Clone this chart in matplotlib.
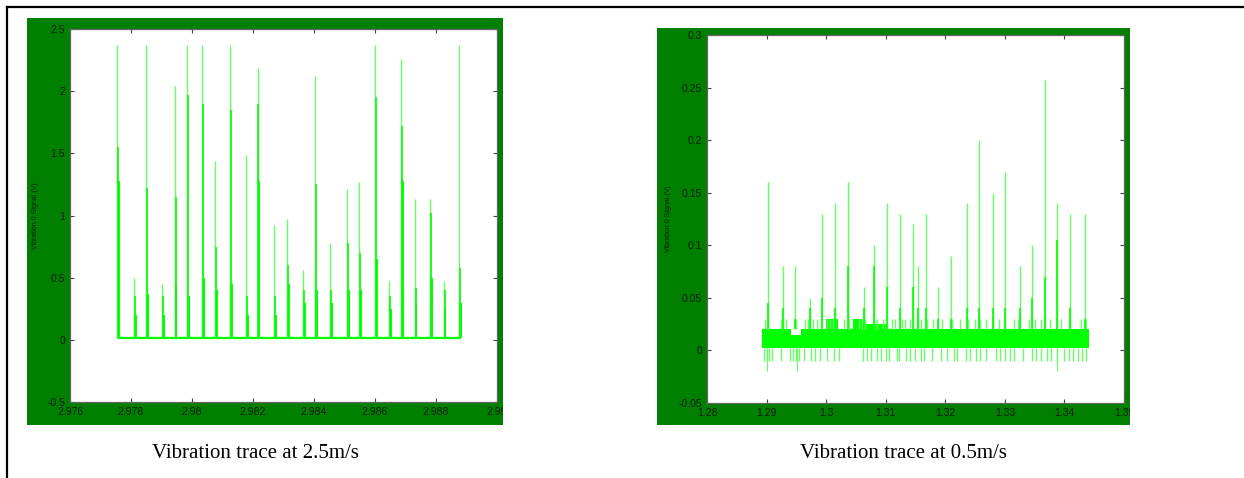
import numpy as np
import matplotlib
matplotlib.use("Agg")
import matplotlib.pyplot as plt
from matplotlib.patches import Rectangle
from matplotlib.lines import Line2D

# ---- left trace (2.5 m/s) ----
t_fast = [2.97755, 2.97810, 2.97849, 2.97903, 2.97943, 2.97983, 2.98032, 2.98077,
          2.98125, 2.98176, 2.98215, 2.98269, 2.98313, 2.98363, 2.98404, 2.98453,
          2.98508, 2.98548, 2.98599, 2.98646, 2.98686, 2.98730, 2.98781, 2.98825,
          2.98877]
pk_fast = [2.37, 0.50, 2.37, 0.45, 2.04, 2.37, 2.37, 1.44, 2.37, 1.49, 2.19, 0.92,
           0.97, 0.56, 2.12, 0.78, 1.21, 1.27, 2.37, 0.47, 2.26, 1.13, 1.13, 0.47, 2.37]
pk2_fast = [1.55, 0.35, 1.22, 0.35, 1.15, 1.97, 1.90, 0.75, 1.85, 0.35, 1.90, 0.35,
            0.60, 0.40, 1.25, 0.40, 0.78, 0.70, 1.95, 0.35, 1.72, 0.42, 1.02, 0.40, 0.58]
pk3_fast = [1.28, 0.20, 0.37, 0.20, 0.45, 0.35, 0.50, 0.40, 0.45, 0.20, 1.28, 0.20,
            0.45, 0.30, 0.40, 0.30, 0.40, 0.40, 0.65, 0.25, 1.28, 0.30, 0.50, 0.25, 0.30]
fast_span = [2.97753, 2.98882]
fast_base = 0.012

# ---- right trace (0.5 m/s) ----
t_slow = [1.29025, 1.29277, 1.29478, 1.29725, 1.29926, 1.30145, 1.30374, 1.30632,
          1.30800, 1.31024, 1.31248, 1.31450, 1.31534, 1.31674, 1.31870, 1.32094,
          1.32357, 1.32570, 1.32805, 1.33006, 1.33253, 1.33454, 1.33673, 1.33869,
          1.34093, 1.34350]
pk_slow = [0.16, 0.08, 0.08, 0.05, 0.13, 0.14, 0.16, 0.06, 0.10, 0.14, 0.13, 0.12,
           0.08, 0.13, 0.06, 0.09, 0.14, 0.20, 0.15, 0.17, 0.08, 0.10, 0.257, 0.14,
           0.13, 0.13]
pk2_slow = [0.045, 0.04, 0.03, 0.04, 0.05, 0.04, 0.08, 0.04, 0.08, 0.06, 0.04, 0.06,
            0.04, 0.04, 0.03, 0.03, 0.04, 0.04, 0.04, 0.04, 0.04, 0.05, 0.07, 0.105,
            0.04, 0.03]
band_x = [1.2893, 1.2941, 1.2958, 1.3000, 1.3020, 1.3045, 1.3060, 1.3100, 1.3442]
band_top = [0.020, 0.015, 0.020, 0.030, 0.020, 0.030, 0.025, 0.020, 0.020]
band_low = 0.002
up_t = [1.2897, 1.2903, 1.2925, 1.2932, 1.2950, 1.2965, 1.2970, 1.2978, 1.2985,
        1.3002, 1.3006, 1.3012, 1.3030, 1.3038, 1.3055, 1.3060, 1.3065, 1.3080,
        1.3085, 1.3096, 1.3110, 1.3115, 1.3128, 1.3133, 1.3140, 1.3152, 1.3160,
        1.3170, 1.3180, 1.3195, 1.3212, 1.3225, 1.3238, 1.3250, 1.3258, 1.3268,
        1.3280, 1.3290, 1.3300, 1.3315, 1.3322, 1.3340, 1.3350, 1.3360, 1.3375,
        1.3395, 1.3410, 1.3428, 1.3436]
dip_t = [1.2896, 1.2900, 1.2904, 1.2909, 1.2925, 1.2940, 1.2945, 1.2950, 1.2955,
         1.2962, 1.2974, 1.2982, 1.2990, 1.3002, 1.3013, 1.3022, 1.3062, 1.3068,
         1.3076, 1.3085, 1.3092, 1.3100, 1.3105, 1.3119, 1.3123, 1.3134, 1.3140,
         1.3150, 1.3160, 1.3165, 1.3178, 1.3193, 1.3203, 1.3214, 1.3220, 1.3235,
         1.3242, 1.3252, 1.3258, 1.3268, 1.3285, 1.3292, 1.3300, 1.3308, 1.3315,
         1.3330, 1.3345, 1.3352, 1.3360, 1.3370, 1.3378, 1.3388, 1.3400, 1.3408,
         1.3415, 1.3422, 1.3430, 1.3437]
deep_t = [1.2901, 1.2951, 1.3388]

fast_xticks = [2.976, 2.978, 2.98, 2.982, 2.984, 2.986, 2.988, 2.99]
fast_xlabels = ["2.976", "2.978", "2.98", "2.982", "2.984", "2.986", "2.988", "2.99"]
fast_yticks = [-0.5, 0, 0.5, 1, 1.5, 2, 2.5]
fast_ylabels = ["-0.5", "0", "0.5", "1", "1.5", "2", "2.5"]
slow_xticks = [1.28, 1.29, 1.30, 1.31, 1.32, 1.33, 1.34, 1.35]
slow_xlabels = ["1.28", "1.29", "1.3", "1.31", "1.32", "1.33", "1.34", "1.35"]
slow_yticks = [-0.05, 0, 0.05, 0.1, 0.15, 0.2, 0.25, 0.3]
slow_ylabels = ["-0.05", "0", "0.05", "0.1", "0.15", "0.2", "0.25", "0.3"]

W, H = 1244, 478
DARKGREEN = "#007f00"
GREEN = "#00ff00"
LIGHT = "#66ff66"

fig = plt.figure(figsize=(W / 100, H / 100), dpi=100)
fig.patch.set_facecolor("white")


def box(x0, y0, x1, y1):
    return [x0 / W, 1 - y1 / H, (x1 - x0) / W, (y1 - y0) / H]


def panel(x0, y0, x1, y1):
    b = box(x0, y0, x1, y1)
    fig.patches.append(Rectangle((b[0], b[1]), b[2], b[3], transform=fig.transFigure,
                                 facecolor=DARKGREEN, edgecolor="none", zorder=-5))


def style(ax, xt, xl, yt, yl, ylab_x):
    ax.set_facecolor("white")
    ax.set_xticks(xt)
    ax.set_xticklabels(xl)
    ax.set_yticks(yt)
    ax.set_yticklabels(yl)
    ax.tick_params(direction="in", length=3, width=0.8, color="#444444",
                   top=True, right=True, labelsize=7.5, labelcolor="#0b1f0b", pad=3.5)
    for lab in ax.get_xticklabels() + ax.get_yticklabels():
        lab.set_family("Liberation Sans")
    for s in ax.spines.values():
        s.set_color("#666666")
        s.set_linewidth(0.9)
    ax.set_ylabel("Vibration 0 Signal (V)", fontsize=5, color="#0b1f0b",
                  family="Liberation Sans")
    ax.yaxis.set_label_coords(ylab_x, 0.5)


# left chart
panel(27, 18, 503, 425)
ax1 = fig.add_axes(box(70, 29, 497, 402))
ax1.hlines(fast_base, fast_span[0], fast_span[1], color=GREEN, lw=1.6)
t1 = np.array(t_fast)
ax1.vlines(t1, fast_base, pk_fast, color=LIGHT, lw=1.0)
ax1.vlines(t1 + 0.00003, fast_base, pk2_fast, color=GREEN, lw=1.2)
ax1.vlines(t1 + 0.00006, fast_base, pk3_fast, color=GREEN, lw=1.4)
ax1.set_xlim(2.976, 2.990)
ax1.set_ylim(-0.5, 2.5)
style(ax1, fast_xticks, fast_xlabels, fast_yticks, fast_ylabels, -0.072)

# right chart
panel(657, 28, 1130, 425)
ax2 = fig.add_axes(box(707, 35, 1124, 403))
ax2.vlines(dip_t, -0.01, band_low, color=LIGHT, lw=1.0)
ax2.vlines(deep_t, -0.02, band_low, color=LIGHT, lw=0.8)
ax2.vlines(up_t, 0.02, 0.03, color=LIGHT, lw=1.0)
ax2.fill_between(band_x, band_low, band_top, step="post", color=GREEN, lw=0)
ax2.vlines(t_slow, 0.02, pk_slow, color=LIGHT, lw=1.0)
ax2.vlines(t_slow, 0.02, pk2_slow, color=GREEN, lw=1.2)
ax2.set_xlim(1.28, 1.35)
ax2.set_ylim(-0.05, 0.3)
style(ax2, slow_xticks, slow_xlabels, slow_yticks, slow_ylabels, -0.084)

# hide tick label overflow past the green panels
for x0, x1 in [(503, 657), (1130, 1244)]:
    b = box(x0, 395, x1, 432)
    fig.patches.append(Rectangle((b[0], b[1]), b[2], b[3], transform=fig.transFigure,
                                 facecolor="white", edgecolor="none", zorder=20))

# captions
fig.text(255 / W, 1 - 453 / H, "Vibration trace at 2.5m/s", ha="center", va="center",
         fontsize=15, family="Liberation Serif")
fig.text(903 / W, 1 - 453 / H, "Vibration trace at 0.5m/s", ha="center", va="center",
         fontsize=15, family="Liberation Serif")

# outer frame (top and left edges)
fig.lines.append(Line2D([7 / W, 1], [1 - 7 / H, 1 - 7 / H], transform=fig.transFigure,
                        color="black", lw=1.6))
fig.lines.append(Line2D([7 / W, 7 / W], [1 - 7 / H, 0], transform=fig.transFigure,
                        color="black", lw=1.6))

fig.savefig("out.png", dpi=100)
